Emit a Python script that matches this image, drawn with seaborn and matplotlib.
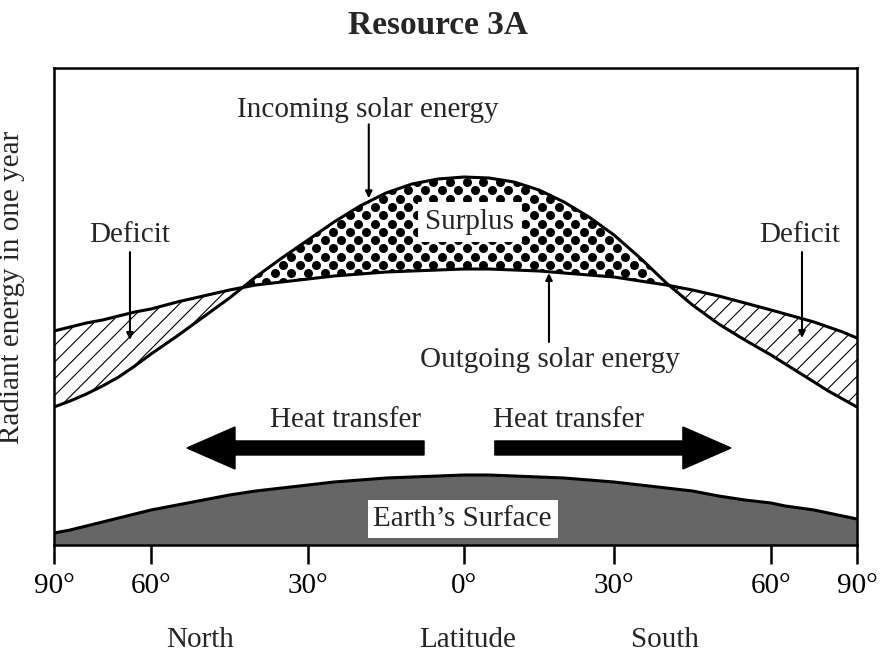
import numpy as np
import matplotlib
matplotlib.use('Agg')
import matplotlib.pyplot as plt
import seaborn as sns
from matplotlib.patches import FancyArrow

# latitude, North negative / South positive
latitude = list(range(-90, 91, 5))
incoming = [138, 144, 151, 159, 168, 179, 191, 209, 228, 247, 268, 287, 305,
            323, 339, 352, 361, 366, 368, 367, 363, 355, 343, 328, 310, 287,
            262, 240, 221, 205, 190, 181, 172, 163, 154, 146, 138]
outgoing = [214, 218, 222, 225, 229, 233, 236, 243, 249, 255, 260, 263, 266,
            269, 271, 273, 274, 275, 276, 276, 275, 274, 272, 270, 268, 264,
            260, 255, 249, 242, 235, 231, 227, 223, 218, 213, 207]
surface = [12, 15, 19, 23, 27, 31, 35, 40, 45, 50, 54, 57, 60, 63, 65, 67,
           68, 69, 70, 70, 69, 68, 67, 65, 63, 60, 57, 54, 49, 45, 42, 39,
           37, 35, 32, 29, 26]

tick_lat = [-90, -60, -30, 0, 30, 60, 90]
tick_labels = ['90°', '60°', '30°', '0°', '30°', '60°', '90°']
# the drawn axis is not evenly spaced in latitude
tick_pos = [0, 97, 254, 410, 560, 717, 803]

sns.set_style('white')
plt.rcParams['font.family'] = ['Liberation Serif', 'DejaVu Serif']
plt.rcParams['hatch.linewidth'] = 0.8

lat = np.array(latitude, dtype=float)
inc = np.array(incoming, dtype=float)
out = np.array(outgoing, dtype=float)
surf = np.array(surface, dtype=float)


def fwd(x):
    return np.interp(x, tick_lat, tick_pos)


def inv(p):
    return np.interp(p, tick_pos, tick_lat)


fig = plt.figure(figsize=(8.87, 6.62), dpi=100)
ax = fig.add_axes([54 / 887, 117 / 662, 803 / 887, 477 / 662])
ax.set_xscale('function', functions=(fwd, inv))

# surplus and deficit areas
surplus = ax.fill_between(lat, out, inc, where=inc >= out, interpolate=True,
                          facecolor='white', linewidth=0)
ax.fill_between(lat, inc, out, where=out >= inc, interpolate=True,
                facecolor='white', edgecolor='black', hatch='//', linewidth=0)

# dotted texture inside the surplus
dx, dy = 16.7 / 803, 8.3 / 477
dots_x, dots_y = [], []
for j, fy in enumerate(np.arange(0.5, 0.9, dy)):
    shift = dx / 2 if j % 2 else 0
    for fx in np.arange(0.15, 0.75, dx):
        dots_x.append(fx + shift)
        dots_y.append(fy)
dots = ax.scatter(dots_x, dots_y, s=42, c='black', linewidths=0,
                  transform=ax.transAxes)
dots.set_clip_path(surplus.get_paths()[0], surplus.get_transform())

# earth's surface
ax.fill_between(lat, 0, surf, color='#666666', linewidth=0)

sns.lineplot(x=latitude, y=incoming, color='black', lw=2.2, ax=ax)
sns.lineplot(x=latitude, y=outgoing, color='black', lw=2.2, ax=ax)
sns.lineplot(x=latitude, y=surface, color='black', lw=2.2, ax=ax)

ax.set_xlim(-90, 90)
ax.set_ylim(0, 477)
ax.set_xticks(tick_lat)
ax.set_xticklabels(tick_labels)
ax.xaxis.set_minor_locator(matplotlib.ticker.NullLocator())
ax.set_yticks([])
ax.tick_params(axis='x', direction='out', length=14, width=1.8, pad=6,
               labelsize=21, colors='black', bottom=True)
for s in ax.spines.values():
    s.set_visible(True)
    s.set_color('black')
    s.set_linewidth(1.8)

ax.set_ylabel('Radiant energy in one year', fontsize=21)
ax.yaxis.set_label_coords(-0.036, 0.54)

fs = 21
thin = dict(arrowstyle='-|>,head_length=0.4,head_width=0.2', color='black',
            lw=1.5, shrinkA=0, shrinkB=0)

ax.text(0.391, 0.912, 'Incoming solar energy', fontsize=fs, ha='center',
        va='center', transform=ax.transAxes)
ax.annotate('', xy=(0.392, 0.727), xytext=(0.392, 0.882),
            xycoords='axes fraction', arrowprops=thin)

ax.text(0.0946, 0.650, 'Deficit', fontsize=fs, ha='center', va='center',
        transform=ax.transAxes)
ax.annotate('', xy=(0.0946, 0.430), xytext=(0.0946, 0.614),
            xycoords='axes fraction', arrowprops=thin)

ax.text(0.929, 0.650, 'Deficit', fontsize=fs, ha='center', va='center',
        transform=ax.transAxes)
ax.annotate('', xy=(0.9315, 0.434), xytext=(0.9315, 0.614),
            xycoords='axes fraction', arrowprops=thin)

ax.text(0.518, 0.677, 'Surplus', fontsize=fs, ha='center', va='center',
        transform=ax.transAxes,
        bbox=dict(boxstyle='square,pad=0.25', facecolor='white',
                  edgecolor='none'))

ax.text(0.618, 0.388, 'Outgoing solar energy', fontsize=fs, ha='center',
        va='center', transform=ax.transAxes)
ax.annotate('', xy=(0.6164, 0.570), xytext=(0.6164, 0.4256),
            xycoords='axes fraction', arrowprops=thin)

ax.text(0.3636, 0.262, 'Heat transfer', fontsize=fs, ha='center',
        va='center', transform=ax.transAxes)
ax.text(0.641, 0.262, 'Heat transfer', fontsize=fs, ha='center',
        va='center', transform=ax.transAxes)
for x0, x1 in [(0.4608, 0.1656), (0.549, 0.843)]:
    ax.add_patch(FancyArrow(x0, 0.2034, x1 - x0, 0, width=0.0294,
                            head_width=0.088, head_length=0.0598,
                            length_includes_head=True, color='black',
                            transform=ax.transAxes))

ax.text(0.509, 0.055, 'Earth’s Surface', fontsize=fs, ha='center',
        va='center', transform=ax.transAxes,
        bbox=dict(boxstyle='square,pad=0.2', facecolor='white',
                  edgecolor='none'))

for label, fx in [('North', 0.1818), ('Latitude', 0.5156), ('South', 0.761)]:
    ax.text(fx, -0.199, label, fontsize=fs, ha='center', va='center',
            transform=ax.transAxes)

fig.text(438 / 887, 1 - 26 / 662, 'Resource 3A', fontsize=24,
         fontweight='bold', ha='center', va='center')

fig.savefig('out.png', dpi=100)
